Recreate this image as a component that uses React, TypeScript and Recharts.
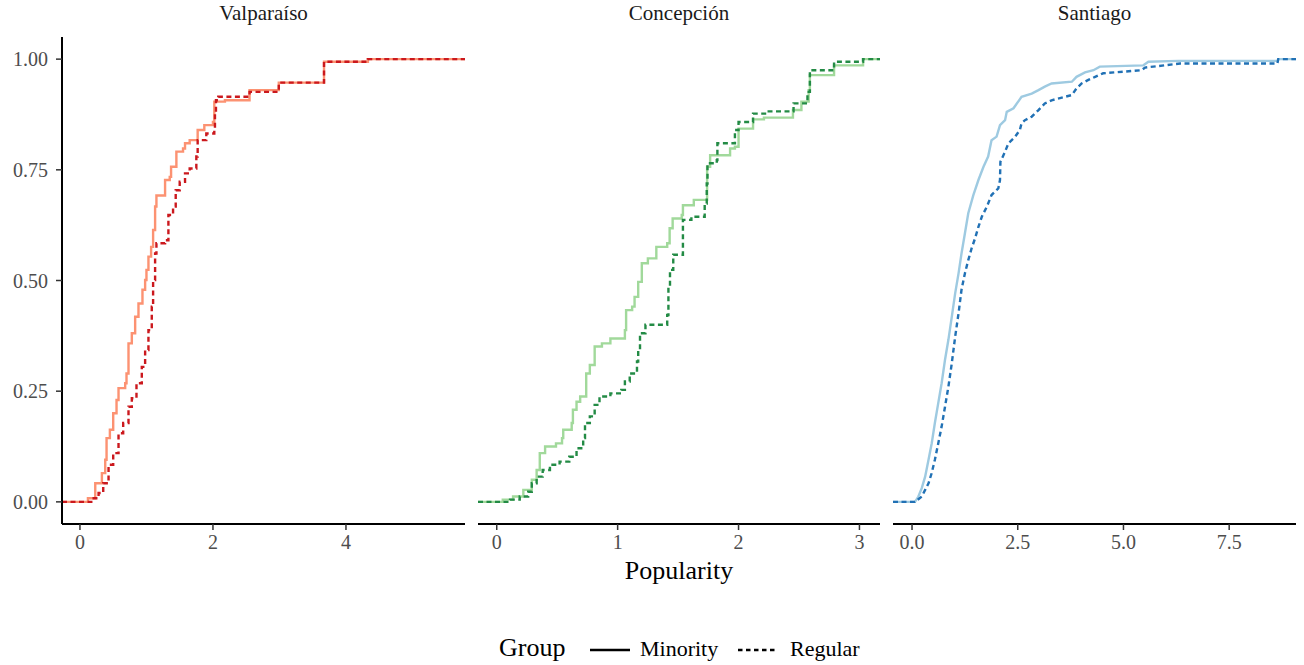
import React from "react";
import { LineChart, Line, XAxis, YAxis } from "recharts";

const FONT = '"Liberation Serif", "Times New Roman", serif';

const cities = ["Valparaíso", "Concepción", "Santiago"];
const groups = ["Minority", "Regular"];

// ecdf jump points [popularity, cumulative share]
const valpMinority: [number, number][] = [
  [0.12, 0.008], [0.23, 0.042], [0.33, 0.065], [0.38, 0.095], [0.4, 0.144], [0.45, 0.163],
  [0.5, 0.2], [0.55, 0.23], [0.58, 0.257], [0.68, 0.268], [0.7, 0.29], [0.73, 0.358],
  [0.78, 0.381], [0.83, 0.418], [0.88, 0.448], [0.94, 0.479], [0.98, 0.501], [1.0, 0.524],
  [1.03, 0.554], [1.07, 0.576], [1.1, 0.614], [1.13, 0.667], [1.15, 0.692], [1.28, 0.727],
  [1.35, 0.734], [1.37, 0.757], [1.45, 0.791], [1.55, 0.798], [1.58, 0.81], [1.65, 0.817],
  [1.77, 0.84], [1.87, 0.851], [2.0, 0.858], [2.02, 0.904], [2.18, 0.907], [2.55, 0.93],
  [2.99, 0.947], [3.67, 0.994], [4.33, 1.0],
];
const valpRegular: [number, number][] = [
  [0.17, 0.008], [0.28, 0.02], [0.35, 0.042], [0.43, 0.084], [0.5, 0.11], [0.58, 0.155],
  [0.65, 0.178], [0.73, 0.215], [0.78, 0.234], [0.85, 0.268], [0.93, 0.305], [0.98, 0.343],
  [1.03, 0.388], [1.08, 0.441], [1.1, 0.501], [1.13, 0.561], [1.15, 0.584], [1.28, 0.591],
  [1.33, 0.648], [1.4, 0.667], [1.44, 0.704], [1.5, 0.723], [1.58, 0.742], [1.65, 0.753],
  [1.75, 0.78], [1.77, 0.817], [1.9, 0.832], [2.02, 0.843], [2.03, 0.881], [2.045, 0.907],
  [2.08, 0.915], [2.55, 0.926], [2.99, 0.947], [3.67, 0.994], [4.33, 1.0],
];
const concMinority: [number, number][] = [
  [0.05, 0.005], [0.135, 0.012], [0.22, 0.027], [0.29, 0.05], [0.33, 0.072], [0.356, 0.11],
  [0.4, 0.125], [0.49, 0.132], [0.54, 0.144], [0.55, 0.163], [0.62, 0.178], [0.63, 0.208],
  [0.66, 0.226], [0.69, 0.238], [0.74, 0.29], [0.77, 0.309], [0.81, 0.351], [0.87, 0.358],
  [0.94, 0.369], [1.06, 0.388], [1.07, 0.433], [1.12, 0.441], [1.14, 0.463], [1.17, 0.497],
  [1.2, 0.539], [1.25, 0.55], [1.32, 0.576], [1.41, 0.584], [1.43, 0.618], [1.455, 0.64],
  [1.53, 0.648], [1.54, 0.67], [1.63, 0.682], [1.74, 0.757], [1.765, 0.783], [1.93, 0.798],
  [1.97, 0.802], [2.0, 0.843], [2.12, 0.864], [2.21, 0.868], [2.45, 0.885], [2.52, 0.904],
  [2.58, 0.93], [2.59, 0.964], [2.79, 0.986], [3.03, 1.0],
];
const concRegular: [number, number][] = [
  [0.11, 0.005], [0.19, 0.012], [0.26, 0.023], [0.29, 0.042], [0.33, 0.057], [0.38, 0.072],
  [0.44, 0.084], [0.52, 0.091], [0.6, 0.102], [0.66, 0.121], [0.715, 0.144], [0.73, 0.178],
  [0.77, 0.193], [0.81, 0.219], [0.85, 0.238], [0.94, 0.245], [1.03, 0.253], [1.06, 0.272],
  [1.1, 0.29], [1.16, 0.317], [1.17, 0.343], [1.185, 0.381], [1.23, 0.4], [1.41, 0.422],
  [1.42, 0.486], [1.433, 0.524], [1.46, 0.558], [1.54, 0.637], [1.61, 0.644], [1.72, 0.674],
  [1.737, 0.719], [1.743, 0.765], [1.82, 0.772], [1.825, 0.81], [1.97, 0.84], [2.0, 0.858],
  [2.12, 0.877], [2.23, 0.882], [2.455, 0.9], [2.57, 0.926], [2.59, 0.975], [2.79, 0.994],
  [3.03, 1.0],
];
const santMinority: [number, number][] = [
  [0.07, 0.0], [0.15, 0.012], [0.23, 0.031], [0.31, 0.057], [0.39, 0.095], [0.465, 0.132],
  [0.54, 0.178], [0.62, 0.223], [0.7, 0.268], [0.78, 0.321], [0.86, 0.366], [0.94, 0.418],
  [1.02, 0.471], [1.1, 0.516], [1.17, 0.561], [1.25, 0.606], [1.33, 0.652], [1.45, 0.693],
  [1.57, 0.727], [1.69, 0.757], [1.8, 0.78], [1.88, 0.817], [2.0, 0.825], [2.08, 0.851],
  [2.2, 0.862], [2.24, 0.881], [2.4, 0.889], [2.59, 0.915], [2.83, 0.922], [2.99, 0.93],
  [3.14, 0.938], [3.3, 0.945], [3.78, 0.949], [3.89, 0.96], [4.09, 0.97], [4.29, 0.975],
  [4.44, 0.983], [5.47, 0.986], [5.59, 0.994], [6.3, 0.996], [8.64, 0.996], [8.66, 1.0],
];
const santRegular: [number, number][] = [
  [0.07, 0.0], [0.23, 0.012], [0.31, 0.027], [0.39, 0.042], [0.465, 0.065], [0.54, 0.095],
  [0.62, 0.132], [0.7, 0.17], [0.78, 0.215], [0.86, 0.26], [0.94, 0.313], [1.02, 0.373],
  [1.1, 0.426], [1.17, 0.479], [1.25, 0.516], [1.33, 0.546], [1.41, 0.573], [1.49, 0.595],
  [1.57, 0.621], [1.65, 0.644], [1.77, 0.667], [1.88, 0.693], [2.04, 0.708], [2.08, 0.727],
  [2.09, 0.768], [2.2, 0.791], [2.28, 0.81], [2.44, 0.825], [2.55, 0.84], [2.59, 0.855],
  [2.67, 0.862], [2.83, 0.87], [2.99, 0.885], [3.14, 0.9], [3.3, 0.907], [3.78, 0.919],
  [3.89, 0.934], [4.01, 0.945], [4.17, 0.953], [4.33, 0.96], [4.52, 0.968], [5.43, 0.975],
  [5.51, 0.981], [6.34, 0.99], [8.64, 0.99], [8.66, 1.0],
];

const valpTicks = [0, 2, 4];
const concTicks = [0, 1, 2, 3];
const santTicks = [0, 2.5, 5, 7.5];
const yTicks = [0, 0.25, 0.5, 0.75, 1];

const valpDomain = [-0.27, 5.79];
const concDomain = [-0.155, 3.17];
const santDomain = [-0.45, 9.08];

const panels = [
  { title: cities[0], minority: valpMinority, regular: valpRegular, ticks: valpTicks, domain: valpDomain,
    digits: 0, colors: ["#fc9272", "#cb181d"], step: true, left: 0, width: 465, showY: true },
  { title: cities[1], minority: concMinority, regular: concRegular, ticks: concTicks, domain: concDomain,
    digits: 0, colors: ["#a1d99b", "#238b45"], step: true, left: 478, width: 402, showY: false },
  { title: cities[2], minority: santMinority, regular: santRegular, ticks: santTicks, domain: santDomain,
    digits: 1, colors: ["#9ecae1", "#2171b5"], step: false, left: 893, width: 403, showY: false },
];

// pad the ecdf to the panel edges like stat_ecdf does
function toRows(pts: [number, number][], domain: number[]) {
  return [{ x: domain[0], y: 0 }, ...pts.map(([x, y]) => ({ x, y })), { x: domain[1], y: 1 }];
}

const TOP = 37;
const PLOT_H = 487;
const XAXIS_H = 40;
const YAXIS_W = 62;
const LW = 2.4;
const DASH = "5 3.5";

const tickStyle = { fill: "#4d4d4d", fontSize: 20, fontFamily: FONT };

function Panel({ p }: { p: (typeof panels)[number] }) {
  const plotLeft = p.left + (p.showY ? YAXIS_W : 0);
  const plotW = p.width - (p.showY ? YAXIS_W : 0);
  return (
    <>
      <div
        style={{
          position: "absolute", left: plotLeft, top: 1, width: plotW, textAlign: "center",
          fontFamily: FONT, fontSize: 21, color: "#1a1a1a",
        }}
      >
        {p.title}
      </div>
      <div style={{ position: "absolute", left: p.left, top: TOP }}>
        <LineChart width={p.width} height={PLOT_H + XAXIS_H} margin={{ top: 0, right: 0, bottom: 0, left: 0 }}>
          <XAxis
            dataKey="x"
            type="number"
            domain={p.domain}
            ticks={p.ticks}
            allowDataOverflow
            tickFormatter={(v: number) => v.toFixed(p.digits)}
            height={XAXIS_H}
            tickSize={6}
            tickMargin={5}
            axisLine={{ stroke: "#000", strokeWidth: 2 }}
            tickLine={{ stroke: "#333", strokeWidth: 1.5 }}
            tick={tickStyle}
          />
          <YAxis
            type="number"
            domain={[-0.05, 1.05]}
            ticks={yTicks}
            hide={!p.showY}
            width={YAXIS_W}
            tickFormatter={(v: number) => v.toFixed(2)}
            tickSize={6}
            tickMargin={8}
            axisLine={{ stroke: "#000", strokeWidth: 2 }}
            tickLine={{ stroke: "#333", strokeWidth: 1.5 }}
            tick={tickStyle}
          />
          <Line
            data={toRows(p.minority, p.domain)}
            dataKey="y"
            name={groups[0]}
            type={p.step ? "stepAfter" : "linear"}
            stroke={p.colors[0]}
            strokeWidth={LW}
            dot={false}
            isAnimationActive={false}
          />
          <Line
            data={toRows(p.regular, p.domain)}
            dataKey="y"
            name={groups[1]}
            type={p.step ? "stepAfter" : "linear"}
            stroke={p.colors[1]}
            strokeWidth={LW}
            strokeDasharray={DASH}
            dot={false}
            isAnimationActive={false}
          />
        </LineChart>
      </div>
    </>
  );
}

export default function App() {
  const txt = { position: "absolute" as const, fontFamily: FONT, color: "#000", whiteSpace: "nowrap" as const };
  return (
    <div style={{ position: "absolute", left: 0, top: 0, width: 1304, height: 665, background: "#fff" }}>
      {panels.map((p) => (
        <Panel key={p.title} p={p} />
      ))}
      <div style={{ ...txt, left: 478, width: 402, top: 556, textAlign: "center", fontSize: 26 }}>Popularity</div>
      <div style={{ ...txt, left: 499, top: 633, fontSize: 26 }}>Group</div>
      <svg style={{ position: "absolute", left: 590, top: 640 }} width={200} height={20}>
        <line x1={0} y1={10} x2={40} y2={10} stroke="#000" strokeWidth={LW} />
        <line x1={148} y1={10} x2={186} y2={10} stroke="#000" strokeWidth={LW} strokeDasharray="4.5 3.5" />
      </svg>
      <div style={{ ...txt, left: 640, top: 636, fontSize: 22 }}>{groups[0]}</div>
      <div style={{ ...txt, left: 790, top: 636, fontSize: 22 }}>{groups[1]}</div>
    </div>
  );
}
